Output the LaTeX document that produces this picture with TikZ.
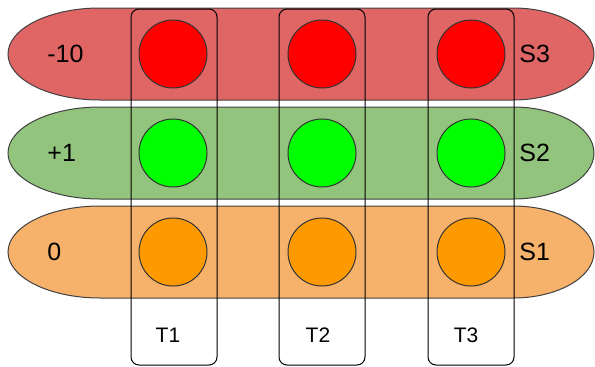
\documentclass[tikz,border=0pt]{standalone}
\usepackage{fontspec}
\setmainfont{Liberation Sans}
\usepackage{tikz}
\definecolor{rowred}{HTML}{E06666}
\definecolor{rowgreen}{HTML}{93C47D}
\definecolor{roworange}{HTML}{F6B26B}
\definecolor{dotred}{HTML}{FF0000}
\definecolor{dotgreen}{HTML}{00FF00}
\definecolor{dotorange}{HTML}{FF9900}

\begin{document}
\begin{tikzpicture}[x=0.5pt,y=0.5pt,
  dot/.style={circle,draw=black!80,line width=0.5pt,minimum size=34pt,inner sep=0pt},
  big/.style={font=\fontsize{12.5}{15}\selectfont,inner sep=0pt,anchor=west}]
\useasboundingbox (0,0) rectangle (595,366);
\foreach \y/\fc/\dc/\v/\s in {312/rowred/dotred/-10/S3,213/rowgreen/dotgreen/+1/S2,114/roworange/dotorange/0/S1} {
  \filldraw[fill=\fc,draw=black!75,line width=0.5pt] (100,\y+46) arc (90:270:92 and 46) -- (513,\y-46) arc (-90:90:81 and 46) -- cycle;
  \node[dot,fill=\dc] (\s-1) at (173,\y) {};
  \node[dot,fill=\dc] (\s-2) at (322,\y) {};
  \node[dot,fill=\dc] (\s-3) at (471,\y) {};
  \node[big] (v-\s) at (47,\y) {\v};
  \node[big] (n-\s) at (519,\y) {\s};
}
\foreach \x/\t/\lx in {131/T1/168,279/T2/318,428/T3/466} {
  \draw[line width=0.5pt,rounded corners=4pt] (\x,1) rectangle (\x+86,357);
  \node[font=\fontsize{10.5}{12}\selectfont,inner sep=0pt] (\t) at (\lx,31) {\t};
}
\end{tikzpicture}
\end{document}
